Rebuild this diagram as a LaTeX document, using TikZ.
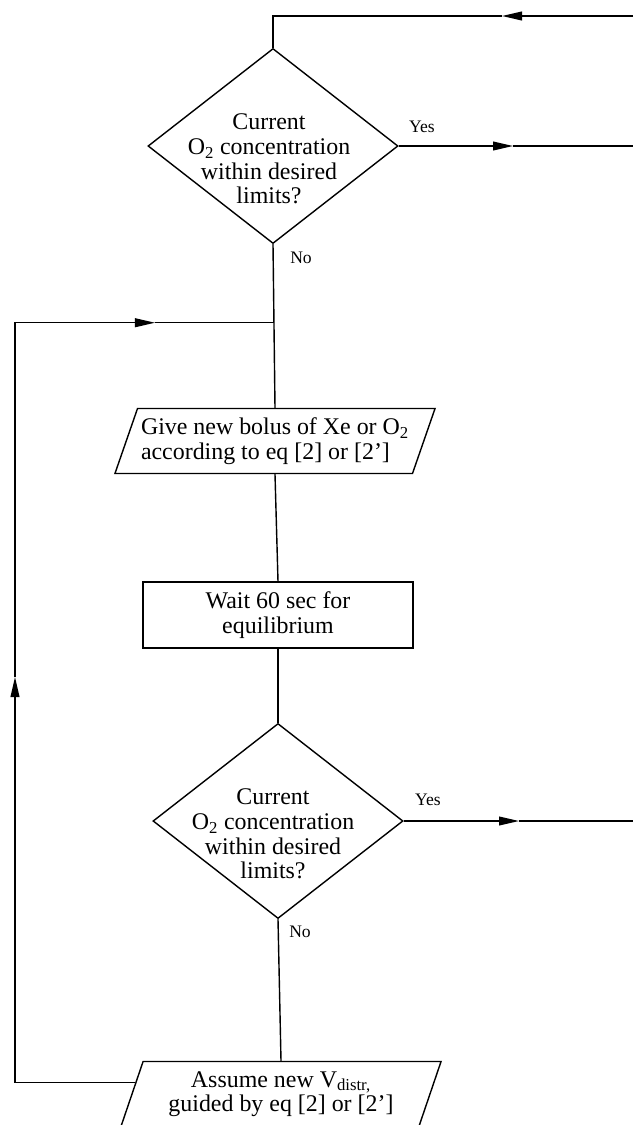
\documentclass[tikz,border=0pt]{standalone}
\usepackage{fontspec}
\setmainfont{Liberation Serif}
\usetikzlibrary{shapes.geometric, arrows.meta, calc}

\tikzset{
  flow/.style={line width=1pt},
  tip/.style={flow, -{Triangle[length=5mm,width=2.2mm]}},
  decision/.style={draw, flow, diamond, inner sep=0pt,
    minimum width=6.25cm, minimum height=4.875cm},
  qtext/.style={align=center, font=\fontsize{17}{17.6}\selectfont},
  process/.style={draw, flow, rectangle, align=center,
    minimum width=6.75cm, minimum height=1.65cm,
    font=\fontsize{17}{17.5}\selectfont},
  io/.style={draw, flow, trapezium, trapezium left angle=68,
    trapezium right angle=112, trapezium stretches body=true,
    minimum width=8cm, minimum height=1.625cm, inner xsep=1pt,
    font=\fontsize{17}{17.4}\selectfont},
  answer/.style={font=\fontsize{12.5}{14}\selectfont},
}

\begin{document}
\begin{tikzpicture}[x=0.025cm, y=-0.025cm]
  \useasboundingbox (0,0) rectangle (633,1125);

  %% first check
  \node[decision] (q1) at (273,146) {};
  \node[qtext] (q1txt) at (269,159)
    {Current\\O\textsubscript{2} concentration\\within desired\\limits?};
  \node[answer] (yes1) at (422,127) {Yes};
  \node[answer] (no1) at (301,258) {No};

  \node[io, align=left] (bolus) at (275,441)
    {Give new bolus of Xe or O\textsubscript{2}\\according to eq [2] or [2']};
  \node[process] (wait) at (278,615) {Wait 60 sec for\\equilibrium};

  %% second check
  \node[decision] (q2) at (278,821) {};
  \node[qtext] (q2txt) at (273,834)
    {Current\\O\textsubscript{2} concentration\\within desired\\limits?};
  \node[answer] (yes2) at (428,800) {Yes};
  \node[answer] (no2) at (300,932) {No};

  \node[io, align=center] (assume) at (281,1094)
    {Assume new V\textsubscript{distr,}\\guided by eq [2] or [2']};

  %% free ends and arrow tips
  \coordinate (rim) at (633,0);
  \coordinate (backin) at (633,16);
  \coordinate (backtip) at (502,16);
  \coordinate (out1tip) at (513,0);
  \coordinate (out2tip) at (519,0);
  \coordinate (uptip) at (15,677);
  \coordinate (righttip) at (155,0);
  \coordinate (join) at ($(q1.south)!0.48!(bolus.center |- bolus.north)$);
  \coordinate (loopstart) at ($(assume.top left corner)!0.33!(assume.bottom left corner)$);

  %% main column
  \draw[flow] (q1.south) -- (bolus.center |- bolus.north);
  \draw[flow] (bolus.center |- bolus.south) -- (wait.north);
  \draw[flow] (wait.south) -- (q2.north);
  \draw[flow] (q2.south) -- (assume.center |- assume.north);

  %% return from the right
  \draw[tip] (backin) -- (backtip);
  \draw[flow] (backtip) -- (q1.north |- backtip) -- (q1.north);

  %% yes exits
  \draw[tip] (q1.east) -- (q1.east -| out1tip);
  \draw[flow] (q1.east -| out1tip) -- (q1.east -| rim);
  \draw[tip] (q2.east) -- (q2.east -| out2tip);
  \draw[flow] (q2.east -| out2tip) -- (q2.east -| rim);

  %% loop back on the left
  \draw[tip] (loopstart) -- (loopstart -| uptip) -- (uptip);
  \draw[tip] (uptip) -- (uptip |- join) -- (join -| righttip);
  \draw[flow] (join -| righttip) -- (join);
\end{tikzpicture}
\end{document}
